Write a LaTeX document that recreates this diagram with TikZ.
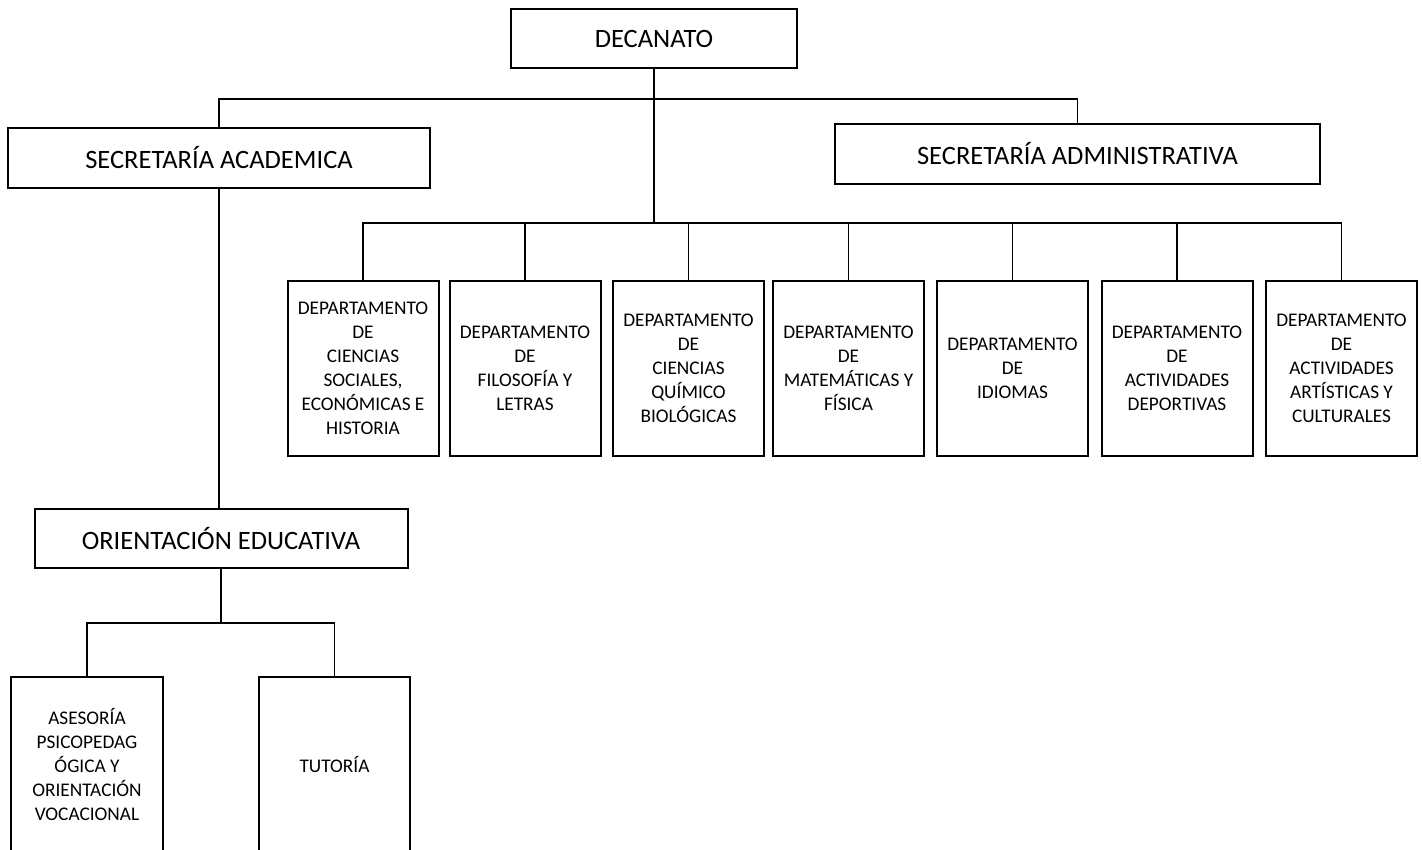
\documentclass[tikz,border=0pt]{standalone}
\usepackage{fontspec}
\setmainfont{Carlito}
\begin{document}
\begin{tikzpicture}[x=1pt,y=-1pt,
  box/.style={draw=black, line width=2pt, inner sep=0pt, outer sep=0pt, align=center},
  headbox/.style={box, font=\fontsize{26.5}{32}\selectfont},
  deptbox/.style={box, font=\fontsize{19.3}{24}\selectfont, minimum width=151pt, minimum height=175pt},
  conn/.style={draw=black, line width=1.3pt},
  trunk/.style={draw=black, line width=2pt}]
\useasboundingbox (0,0) rectangle (1422,850);
\clip (0,0) rectangle (1422,850);

% header boxes
\node[headbox, minimum width=286pt, minimum height=59pt] (dec) at (654,38.5) {DECANATO};
\node[headbox, minimum width=422pt, minimum height=60pt] (sa) at (219,158) {SECRETARÍA ACADEMICA};
\node[headbox, minimum width=485pt, minimum height=60pt] (sadm) at (1077.5,154) {SECRETARÍA ADMINISTRATIVA};

% departments
\node[deptbox] (d1) at (363,368.5) {DEPARTAMENTO\\DE\\CIENCIAS\\SOCIALES,\\ECONÓMICAS E\\HISTORIA};
\node[deptbox] (d2) at (525,368.5) {DEPARTAMENTO\\DE\\FILOSOFÍA Y\\LETRAS};
\node[deptbox] (d3) at (688.5,368.5) {DEPARTAMENTO\\DE\\CIENCIAS\\QUÍMICO\\BIOLÓGICAS};
\node[deptbox] (d4) at (848.5,368.5) {DEPARTAMENTO\\DE\\MATEMÁTICAS Y\\FÍSICA};
\node[deptbox] (d5) at (1012.5,368.5) {DEPARTAMENTO\\DE\\IDIOMAS};
\node[deptbox] (d6) at (1177,368.5) {DEPARTAMENTO\\DE\\ACTIVIDADES\\DEPORTIVAS};
\node[deptbox] (d7) at (1341.5,368.5) {DEPARTAMENTO\\DE\\ACTIVIDADES\\ARTÍSTICAS Y\\CULTURALES};

% orientation
\node[headbox, minimum width=373pt, minimum height=59pt] (oe) at (221,538.5) {ORIENTACIÓN EDUCATIVA};
\node[deptbox, minimum width=152pt] (ase) at (87,764.5) {ASESORÍA\\PSICOPEDAG\\ÓGICA Y\\ORIENTACIÓN\\VOCACIONAL};
\node[deptbox] (tut) at (334.5,764.5) {TUTORÍA};

% bus coordinates
\coordinate (topbar) at (0,99);
\coordinate (deptbar) at (0,223);
\coordinate (subbar) at (0,623);

% connectors
\draw[conn] (sa.north) -- (sa.north |- topbar) -- (sadm.north |- topbar) -- (sadm.north);
\draw[trunk] (dec.south) -- (dec.south |- deptbar);
\draw[conn] (d1.north) -- (d1.north |- deptbar) -- (d7.north |- deptbar) -- (d7.north);
\foreach \d in {d2,d3,d4,d5,d6}
  \draw[conn] (\d.north) -- (\d.north |- deptbar);
\draw[conn] (sa.south) -- (sa.south |- oe.north);
\draw[trunk] (oe.south) -- (oe.south |- subbar);
\draw[conn] (ase.north) -- (ase.north |- subbar) -- (tut.north |- subbar) -- (tut.north);
\end{tikzpicture}
\end{document}
